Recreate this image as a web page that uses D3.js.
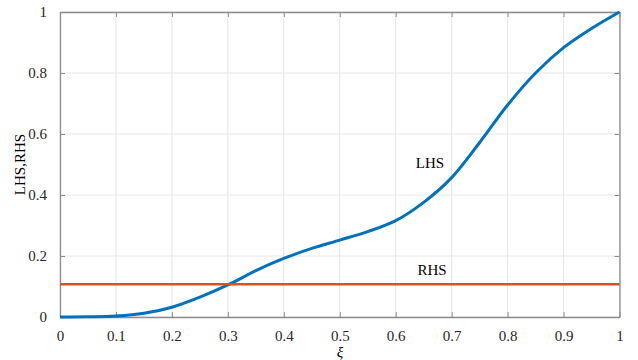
<!DOCTYPE html>
<html>
<head>
<meta charset="utf-8">
<script src="https://cdn.jsdelivr.net/npm/d3@7"></script>
<style>
    body { margin: 0; background: #fff; }
    svg text { font-family: "Liberation Serif", "Times New Roman", serif; font-size: 15px; }
</style>
</head>
<body>
<script>
"use strict";
// values
const xiValues = [0, 0.05, 0.1, 0.15, 0.2, 0.25, 0.3, 0.35, 0.4, 0.45, 0.5,
                  0.55, 0.6, 0.65, 0.7, 0.75, 0.8, 0.85, 0.9, 0.95, 1];
const lhsValues = [0, 0.0005, 0.003, 0.012, 0.032, 0.065, 0.105, 0.152, 0.192, 0.225, 0.252,
                   0.28, 0.316, 0.376, 0.457, 0.572, 0.695, 0.80, 0.883, 0.946, 1];
const rhsValue = 0.107;
const xTicks = [0, 0.1, 0.2, 0.3, 0.4, 0.5, 0.6, 0.7, 0.8, 0.9, 1];
const yTicks = [0, 0.2, 0.4, 0.6, 0.8, 1];
const xTickLabels = ["0", "0.1", "0.2", "0.3", "0.4", "0.5", "0.6", "0.7", "0.8", "0.9", "1"];
const yTickLabels = ["0", "0.2", "0.4", "0.6", "0.8", "1"];

(function(){
    const measurements = {
        width: 638,
        height: 360,
        left: 60,
        right: 619.5,
        top: 12,
        bottom: 317
    }

    window.onload = function() {
        const svg = d3.select('body').append('svg')
            .attr('width', measurements.width)
            .attr('height', measurements.height);

        let scaleX = d3.scaleLinear()
            .domain([0, 1])
            .range([measurements.left, measurements.right]);
        let scaleY = d3.scaleLinear()
            .domain([0, 1])
            .range([measurements.bottom, measurements.top]);

        // grid
        svg.append('g').selectAll('line')
            .data(xTicks).enter().append('line')
            .attr('x1', d => scaleX(d)).attr('x2', d => scaleX(d))
            .attr('y1', measurements.top).attr('y2', measurements.bottom)
            .attr('stroke', '#e6e6e6').attr('stroke-width', 1);
        svg.append('g').selectAll('line')
            .data(yTicks).enter().append('line')
            .attr('y1', d => scaleY(d)).attr('y2', d => scaleY(d))
            .attr('x1', measurements.left).attr('x2', measurements.right)
            .attr('stroke', '#e6e6e6').attr('stroke-width', 1);

        // axes, ticks pointing in, mirrored on top and right
        const axes = [
            [d3.axisBottom(scaleX).tickValues(xTicks).tickFormat((d, i) => xTickLabels[i]), `translate(0,${measurements.bottom})`, 13],
            [d3.axisTop(scaleX).tickValues(xTicks).tickFormat(''), `translate(0,${measurements.top})`, 0],
            [d3.axisLeft(scaleY).tickValues(yTicks).tickFormat((d, i) => yTickLabels[i]), `translate(${measurements.left},0)`, 13],
            [d3.axisRight(scaleY).tickValues(yTicks).tickFormat(''), `translate(${measurements.right},0)`, 0]
        ];
        axes.forEach(([ax, tr, pad]) => {
            const g = svg.append('g')
                .attr('transform', tr)
                .call(ax.tickSizeInner(-5).tickSizeOuter(0).tickPadding(pad))
                .attr('font-family', null)
                .attr('font-size', null);
            g.select('.domain').attr('stroke', '#8c8c8c').attr('stroke-width', 1.3);
            g.selectAll('.tick line').attr('stroke', '#8c8c8c');
            g.selectAll('.tick text').attr('fill', '#262626');
        });

        // LHS curve
        const line = d3.line()
            .x((d, i) => scaleX(xiValues[i]))
            .y(d => scaleY(d))
            .curve(d3.curveCatmullRom.alpha(0.5));
        svg.append('path')
            .datum(lhsValues)
            .attr('d', line)
            .attr('fill', 'none')
            .attr('stroke', '#0072BD')
            .attr('stroke-width', 3);

        // RHS constant
        svg.append('line')
            .attr('x1', scaleX(0)).attr('x2', scaleX(1))
            .attr('y1', scaleY(rhsValue)).attr('y2', scaleY(rhsValue))
            .attr('stroke', '#D95319')
            .attr('stroke-width', 2.5);

        makeLabels(svg);
    }

    function makeLabels(svg) {
        svg.append('text')
            .attr('x', 430).attr('y', 168)
            .attr('text-anchor', 'middle')
            .text('LHS');
        svg.append('text')
            .attr('x', 432).attr('y', 275)
            .attr('text-anchor', 'middle')
            .text('RHS');
        svg.append('text')
            .attr('x', 340).attr('y', 357)
            .attr('text-anchor', 'middle')
            .style('font-style', 'italic')
            .text('ξ');
        svg.append('text')
            .attr('transform', 'translate(25,164.5)rotate(-90)')
            .attr('text-anchor', 'middle')
            .text('LHS,RHS');
    }
})()
</script>
</body>
</html>
